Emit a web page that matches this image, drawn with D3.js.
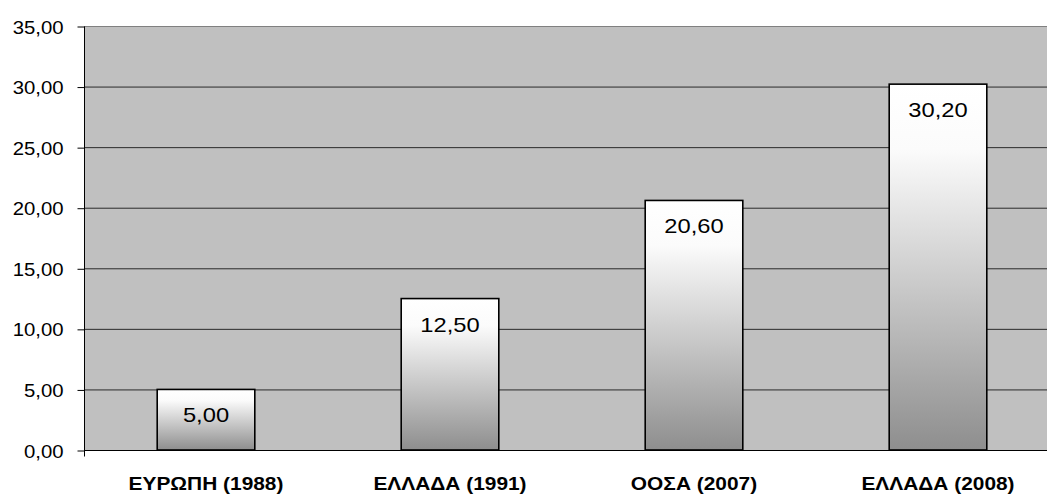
<!DOCTYPE html>
<html>
<head>
<meta charset="utf-8">
<script src="https://cdn.jsdelivr.net/npm/d3@7"></script>
<style>
  html, body { margin: 0; padding: 0; background: #fff; }
  svg { display: block; font-family: "Liberation Sans", Arial, sans-serif; }
</style>
</head>
<body>
<svg id="chart" width="1047" height="494"></svg>
<script>
// Categories and values
const categories = ["ΕΥΡΩΠΗ (1988)", "ΕΛΛΑΔΑ (1991)", "ΟΟΣΑ (2007)", "ΕΛΛΑΔΑ (2008)"];
const values = [5.00, 12.50, 20.60, 30.20];
const yTicks = [0, 5, 10, 15, 20, 25, 30, 35];

const fmt = v => v.toFixed(2).replace(".", ",");
const stretch = 1.13; // slightly wide lettering

const svg = d3.select("#chart");
const margin = { left: 84, top: 26, bottom: 44 };
const plotW = 976; // plot extends past the right edge of the view
const height = 494;
const plotH = height - margin.top - margin.bottom;

const x = d3.scaleBand().domain(categories).range([margin.left, margin.left + plotW]).paddingInner(0.6).paddingOuter(0.3);
const y = d3.scaleLinear().domain([0, 35]).range([margin.top + plotH, margin.top]);

// Gradient fill for bars
const defs = svg.append("defs");
const grad = defs.append("linearGradient").attr("id", "barGrad").attr("x1", 0).attr("y1", 0).attr("x2", 0).attr("y2", 1);
grad.append("stop").attr("offset", "0%").attr("stop-color", "#ffffff");
grad.append("stop").attr("offset", "18%").attr("stop-color", "#fbfbfb");
grad.append("stop").attr("offset", "100%").attr("stop-color", "#8e8e8e");

// Plot background
svg.append("rect")
  .attr("x", margin.left).attr("y", y(35))
  .attr("width", plotW).attr("height", y(0) - y(35))
  .attr("fill", "#c0c0c0");

// Gridlines
svg.append("g").selectAll("line").data(yTicks.filter(t => t > 0)).join("line")
  .attr("x1", margin.left).attr("x2", margin.left + plotW)
  .attr("y1", d => y(d) + 0.5).attr("y2", d => y(d) + 0.5)
  .attr("stroke", d => d === 35 ? "#808080" : "#2a2a2a").attr("stroke-width", 1);

// Y axis
const yAxis = d3.axisLeft(y).tickValues(yTicks).tickFormat(fmt).tickSize(7).tickPadding(0);
const gy = svg.append("g").attr("transform", `translate(${margin.left + 0.5},0.5)`).call(yAxis);
gy.select(".domain").attr("stroke", "#000").attr("d", `M0,${y(35)}V${y(0) + 6}`);
gy.selectAll(".tick line").attr("stroke", "#000");
gy.selectAll(".tick text")
  .attr("x", null).attr("dy", null)
  .attr("transform", `translate(-21,6.5) scale(${stretch},1)`)
  .attr("font-size", 18).attr("fill", "#000")
  .attr("font-family", "Liberation Sans, Arial, sans-serif");

// Bars
svg.append("g").selectAll("rect").data(values).join("rect")
  .attr("x", (d, i) => x(categories[i]))
  .attr("y", d => y(d))
  .attr("width", x.bandwidth())
  .attr("height", d => y(0) - y(d))
  .attr("fill", "url(#barGrad)")
  .attr("stroke", "#000").attr("stroke-width", 1.6);

// X axis baseline
svg.append("line")
  .attr("x1", margin.left).attr("x2", margin.left + plotW)
  .attr("y1", y(0) + 0.5).attr("y2", y(0) + 0.5)
  .attr("stroke", "#000").attr("stroke-width", 1.2);

// Value labels
svg.append("g").selectAll("text").data(values).join("text")
  .attr("transform", (d, i) => `translate(${x(categories[i]) + x.bandwidth() / 2},${y(d) + 33}) scale(${stretch},1)`)
  .attr("text-anchor", "middle")
  .attr("font-size", 21)
  .attr("fill", "#000")
  .text(fmt);

// Category labels
svg.append("g").selectAll("text").data(categories).join("text")
  .attr("transform", d => `translate(${x(d) + x.bandwidth() / 2},${y(0) + 40}) scale(${stretch},1)`)
  .attr("text-anchor", "middle")
  .attr("font-size", 18.5)
  .attr("font-weight", "bold")
  .attr("fill", "#000")
  .text(d => d);
</script>
</body>
</html>
